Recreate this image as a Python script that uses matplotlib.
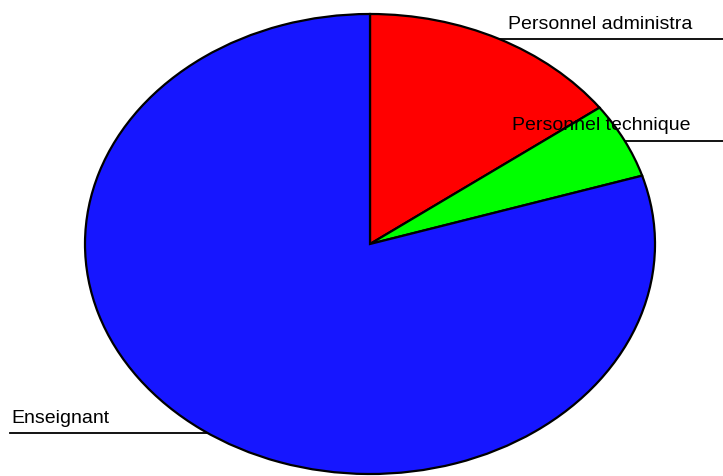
import matplotlib.pyplot as plt

plt.rcParams['font.family'] = ['Liberation Sans', 'DejaVu Sans']

labels = ['Personnel administra', 'Personnel technique', 'Enseignant']
values = [14.9, 5.3, 79.8]
colors = ['#ff0000', '#00ff00', '#1616ff']

W, H = 723, 476
cx, cy, rx, ry = 370, 244, 285, 230

def px(x, y):
    # pixel position -> data coords of the unit pie
    return (x - cx) / rx, (cy - y) / ry

fig = plt.figure(figsize=(W / 100, H / 100), dpi=100)
ax = fig.add_axes([0, 0, 1, 1])

wedges, _ = ax.pie(values, colors=colors, startangle=90, counterclock=False,
                   wedgeprops=dict(edgecolor='black', linewidth=1.6, zorder=2))

ax.set_aspect('auto')
ax.set_xlim(px(0, 0)[0], px(W, 0)[0])
ax.set_ylim(px(0, H)[1], px(0, 0)[1])
ax.axis('off')

# labels with leader lines: (text x, baseline y, line y, line x0, line x1)
label_pos = [(508, 29, 39, 480, W), (512, 130, 141, 600, W), (11, 423, 433, 10, 260)]
for lab, (tx, ty, ly, lx0, lx1) in zip(labels, label_pos):
    x0, y0 = px(lx0, ly)
    x1, _ = px(lx1, ly)
    ax.plot([x0, x1], [y0, y0], color='black', lw=1.3, zorder=1, clip_on=False)
    t = ax.text(*px(tx, ty), lab, fontsize=14, ha='left', va='baseline', zorder=5)

fig.savefig('out.png', dpi=100)
